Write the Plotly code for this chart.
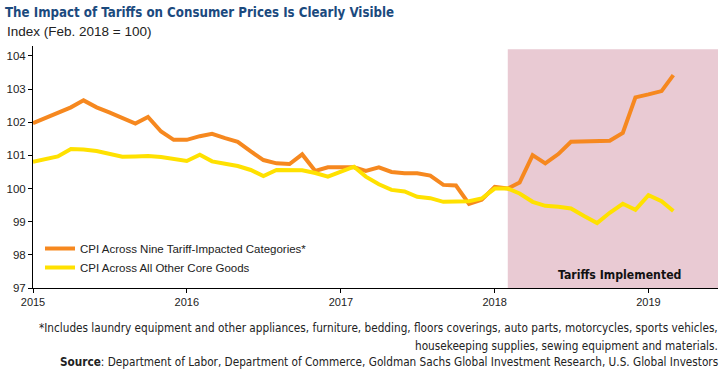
import pandas as pd
import plotly.graph_objects as go

months = pd.date_range("2015-01-01", "2019-03-01", freq="MS")

tariff_cpi = [101.97, 102.13, 102.30, 102.45, 102.66, 102.45, 102.30, 102.13, 101.96, 102.16,
              101.72, 101.47, 101.47, 101.58, 101.65, 101.52, 101.41, 101.12, 100.86, 100.76,
              100.74, 101.03, 100.53, 100.64, 100.65, 100.64, 100.53, 100.64, 100.50, 100.46,
              100.46, 100.39, 100.11, 100.09, 99.54, 99.66, 100.05, 100.00, 100.18, 101.01,
              100.76, 101.04, 101.41, 101.42, 101.43, 101.44, 101.68, 102.75, 102.84, 102.94,
              103.42]

other_cpi = [100.81, 100.89, 100.97, 101.19, 101.18, 101.13, 101.05, 100.96, 100.97, 100.98,
             100.95, 100.90, 100.83, 101.02, 100.82, 100.75, 100.68, 100.56, 100.38, 100.56,
             100.56, 100.55, 100.47, 100.36, 100.51, 100.66, 100.36, 100.13, 99.96, 99.91,
             99.75, 99.71, 99.60, 99.60, 99.62, 99.70, 100.00, 100.00, 99.85, 99.60,
             99.48, 99.45, 99.40, 99.17, 98.96, 99.27, 99.54, 99.36, 99.80, 99.62,
             99.32]

year_ticks = ["2015-01-01", "2016-01-01", "2017-01-01", "2018-01-01", "2019-01-01"]
year_labels = ["2015", "2016", "2017", "2018", "2019"]
y_ticks = [97, 98, 99, 100, 101, 102, 103, 104]

tariff_start = "2018-02-01"
x_end = "2019-06-15"

W, H = 725, 370
ML, MR, MT, MB = 33, 7, 46, 82
PW = W - ML - MR
PH = H - MT - MB

COND = "DejaVu Sans Condensed, Roboto Condensed, Arial Narrow, Roboto, sans-serif"
REG = "Liberation Sans, Arial, sans-serif"


def px_x(p):
    return (p - ML) / PW


def px_y(p):
    return (H - MB - p) / PH


fig = go.Figure()
fig.add_trace(go.Scatter(x=months, y=tariff_cpi, mode="lines",
                         name="CPI Across Nine Tariff-Impacted Categories*",
                         line=dict(color="#f6881f", width=4)))
fig.add_trace(go.Scatter(x=months, y=other_cpi, mode="lines",
                         name="CPI Across All Other Core Goods",
                         line=dict(color="#ffe100", width=4)))

fig.add_shape(type="rect", xref="x", yref="y", x0=tariff_start, x1=x_end,
              y0=97, y1=104.2, fillcolor="#e9cad3", line=dict(width=0), layer="below")

fig.add_annotation(xref="x", yref="paper", x="2018-10-25", y=px_y(275),
                   text="<b>Tariffs Implemented</b>", showarrow=False,
                   xanchor="center", yanchor="middle",
                   font=dict(family=COND, size=12.2, color="#111111"))

fig.add_annotation(xref="paper", yref="paper", x=px_x(5), y=px_y(32),
                   text="Index (Feb. 2018 = 100)", showarrow=False,
                   xanchor="left", yanchor="middle",
                   font=dict(family=REG, size=13.5, color="#222222"))

foot_font = dict(family=COND, size=11.7, color="#222222")
fig.add_annotation(xref="paper", yref="paper", x=px_x(720), y=px_y(328),
                   text="*Includes laundry equipment and other appliances, furniture, bedding, floors coverings, auto parts, motorcycles, sports vehicles,",
                   showarrow=False, xanchor="right", yanchor="middle", font=foot_font)
fig.add_annotation(xref="paper", yref="paper", x=px_x(720), y=px_y(346),
                   text="housekeeping supplies, sewing equipment and materials.",
                   showarrow=False, xanchor="right", yanchor="middle", font=foot_font)
fig.add_annotation(xref="paper", yref="paper", x=px_x(720), y=px_y(362),
                   text="<b>Source</b>: Department of Labor, Department of Commerce, Goldman Sachs Global Investment Research, U.S. Global Investors",
                   showarrow=False, xanchor="right", yanchor="middle", font=foot_font)

fig.update_layout(
    width=W, height=H,
    margin=dict(l=ML, r=MR, t=MT, b=MB, pad=0),
    paper_bgcolor="white", plot_bgcolor="white",
    title=dict(text="<b>The Impact of Tariffs on Consumer Prices Is Clearly Visible</b>",
               x=5 / W, xanchor="left", y=1 - 12 / H, yanchor="middle",
               font=dict(family=COND, size=13.2, color="#1b4a7e")),
    showlegend=True,
    legend=dict(x=px_x(40), y=px_y(234), xanchor="left", yanchor="top",
                bgcolor="rgba(0,0,0,0)", font=dict(family=REG, size=11.5, color="#222222"),
                tracegroupgap=0),
    font=dict(family=REG, size=11, color="#222222"),
)

fig.update_xaxes(type="date", range=["2015-01-01", x_end],
                 tickvals=year_ticks, ticktext=year_labels,
                 showline=True, linecolor="black", linewidth=1,
                 ticks="outside", ticklen=4, tickcolor="black",
                 showgrid=False, zeroline=False,
                 tickfont=dict(family=REG, size=11, color="#222222"))
fig.update_yaxes(range=[97, 104.3], tickvals=y_ticks,
                 showline=True, linecolor="black", linewidth=1,
                 ticks="outside", ticklen=4, tickcolor="black",
                 showgrid=False, zeroline=False,
                 tickfont=dict(family=REG, size=11.5, color="#222222"))

fig.write_html("out.html", config={"displayModeBar": False},
               post_script="document.body.style.margin='0';document.body.style.overflow='hidden';")
